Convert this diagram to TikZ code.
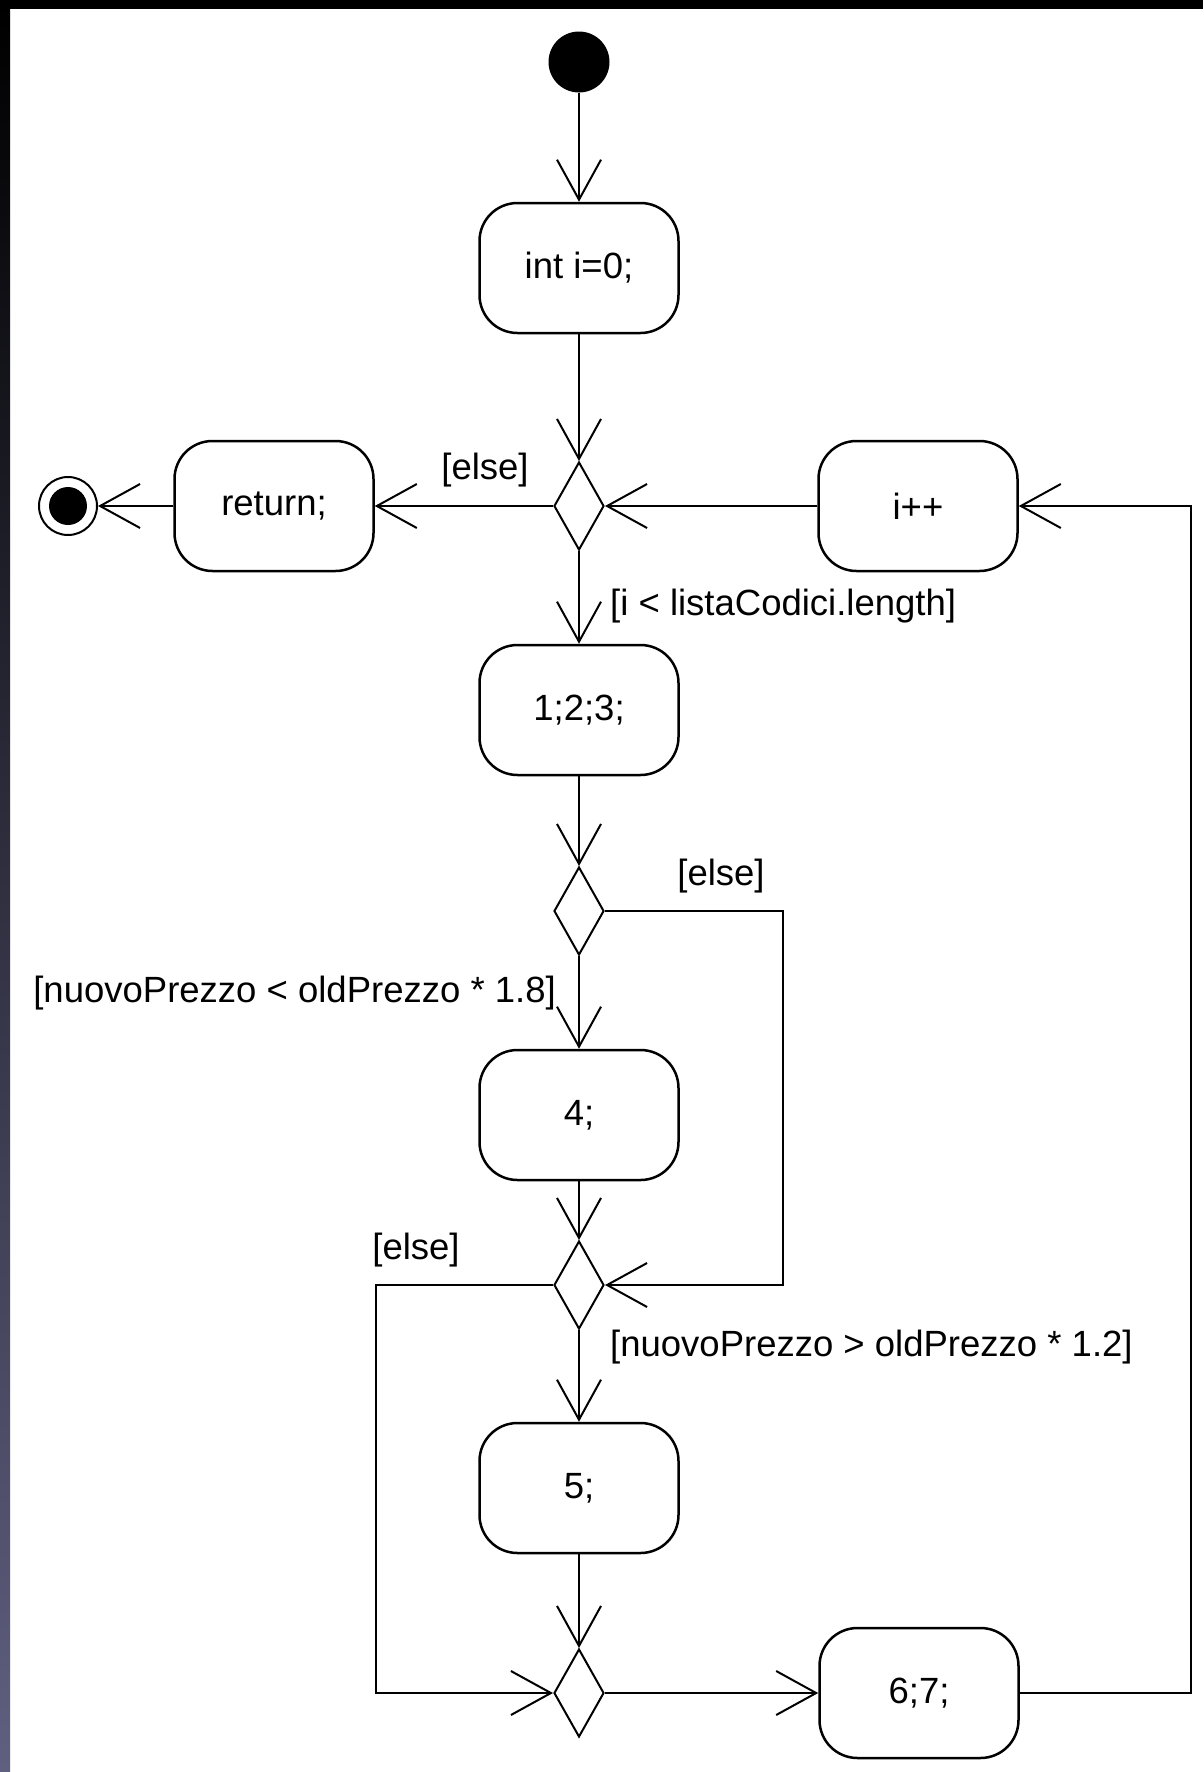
\documentclass[tikz,border=0pt]{standalone}
\usepackage{fontspec}
\setmainfont{Liberation Sans}
\usetikzlibrary{shapes.geometric,arrows.meta}

\definecolor{sidebar}{RGB}{95,95,128}

\begin{document}
\begin{tikzpicture}[x=1pt,y=-1pt,
  act/.style={draw,line width=2.5pt,rounded corners=38pt,minimum width=199pt,minimum height=130pt,font=\fontsize{36.5}{42}\selectfont},
  dec/.style={draw,diamond,line width=2pt,minimum width=50pt,minimum height=88pt,inner sep=0pt},
  guard/.style={font=\fontsize{36.5}{42}\selectfont,inner sep=0pt},
  flow/.style={line width=2pt,-{Straight Barb[length=40pt,width=44pt]}}]
\useasboundingbox (0,0) rectangle (1203,1772);
\fill[white] (0,0) rectangle (1203,1772);
\fill[black] (0,0) rectangle (1203,9);
\shade[top color=black,bottom color=sidebar] (0,0) rectangle (10,1772);

\node[circle,fill=black,minimum size=61pt,inner sep=0pt] (start) at (579,62) {};
\node[circle,draw,line width=2pt,minimum size=58pt,inner sep=0pt] (end) at (68,506) {};
\fill (end.center) circle (19pt);

\node[act] (init) at (579,268) {int i=0;};
\node[dec] (d1) at (579,506) {};
\node[act] (ret) at (274,506) {return;};
\node[act] (inc) at (918,506) {i++};
\node[act] (s123) at (579,710) {1;2;3;};
\node[dec] (d2) at (579,911) {};
\node[act] (s4) at (579,1115) {4;};
\node[dec] (d3) at (579,1285) {};
\node[act] (s5) at (579,1488) {5;};
\node[dec] (d4) at (579,1693) {};
\node[act] (s67) at (919,1693) {6;7;};

% bends of the side branches
\coordinate (r1) at (783,911); \coordinate (r2) at (783,1285);
\coordinate (l1) at (376,1285); \coordinate (l2) at (376,1693);
\coordinate (b1) at (1191,1693); \coordinate (b2) at (1191,506);

\draw[flow] (start) -- (init);
\draw[flow] (init) -- (d1);
\draw[flow] (d1) -- (ret);
\draw[flow] (ret) -- (end);
\draw[flow] (inc) -- (d1);
\draw[flow] (d1) -- (s123);
\draw[flow] (s123) -- (d2);
\draw[flow] (d2) -- (s4);
\draw[flow] (d2.east) -- (r1) -- (r2) -- (d3.east);
\draw[flow] (s4) -- (d3);
\draw[flow] (d3) -- (s5);
\draw[flow] (d3.west) -- (l1) -- (l2) -- (d4.west);
\draw[flow] (s5) -- (d4);
\draw[flow] (d4) -- (s67);
\draw[flow] (s67) -- (b1) -- (b2) -- (inc);

\node[guard] (else1) at (485,470) {[else]};
\node[guard,anchor=west] (loop) at (610,606) {[i < listaCodici.length]};
\node[guard] (else2) at (721,876) {[else]};
\node[guard,anchor=east] (lt) at (556,993) {[nuovoPrezzo < oldPrezzo * 1.8]};
\node[guard] (else3) at (416,1250) {[else]};
\node[guard,anchor=west] (gt) at (610,1347) {[nuovoPrezzo > oldPrezzo * 1.2]};
\end{tikzpicture}
\end{document}
